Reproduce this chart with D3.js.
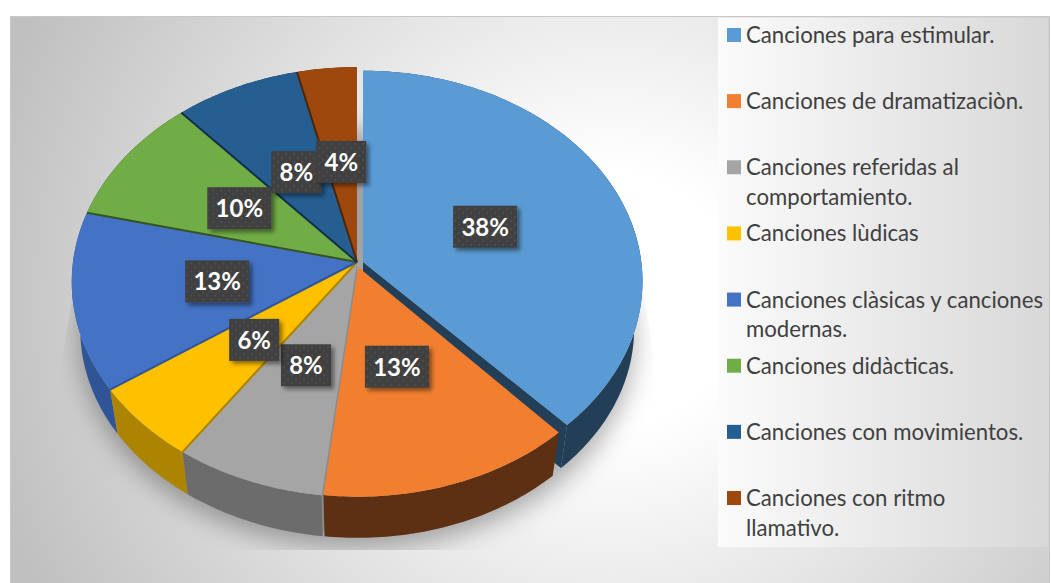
<!DOCTYPE html>
<html>
<head>
<meta charset="utf-8">
<script src="https://cdn.jsdelivr.net/npm/d3@7"></script>
<style>
  html, body { margin: 0; padding: 0; background: #fff; }
  svg { display: block; }
  text { font-family: Lato, "Open Sans", sans-serif; }
</style>
</head>
<body>
<div id="chart"></div>
<script>
// Chart data
var categories = [
  ["Canciones para estimular."],
  ["Canciones de dramatizaciòn."],
  ["Canciones referidas al", "comportamiento."],
  ["Canciones lùdicas"],
  ["Canciones clàsicas y canciones", "modernas."],
  ["Canciones didàcticas."],
  ["Canciones con movimientos."],
  ["Canciones con ritmo", "llamativo."]
];
var values = [38, 13.8, 7.8, 5.8, 13.4, 9.7, 7.8, 3.7];
var labels = ["38%", "13%", "8%", "6%", "13%", "10%", "8%", "4%"];
var topColors = ["#5b9bd5", "#f27f30", "#a5a5a5", "#ffc000", "#4472c4", "#70ad47", "#255e91", "#9e480e"];
var wallColors = ["#223f57", "#5e3013", "#5a5a5a", "#ad8400", "#2f5597", "#38531f", "#12304a", "#4f2407"];

var width = 1051, height = 583;

// Tilted disc: near edge is magnified, the bottom rim a bit smaller and lower
var cx = 357, cy = 262, ax = 284, ay = 213, k = 0.093;
var depth = 48, shrink = 0.97;

function project(angle, r, low) {
  var u = r * Math.sin(angle), v = -r * Math.cos(angle), w = 1 - k * v;
  var x = ax * u / w, y = ay * v / w;
  if (low) { x *= shrink; y = y * shrink + depth; }
  return [x, y];
}

var svg = d3.select("#chart").append("svg")
    .attr("width", width)
    .attr("height", height);

var defs = svg.append("defs");

// Panel background
var bg = defs.append("radialGradient")
    .attr("id", "panel-bg")
    .attr("gradientUnits", "userSpaceOnUse")
    .attr("cx", 610).attr("cy", 300).attr("r", 640);
bg.append("stop").attr("offset", 0.2).attr("stop-color", "#ffffff");
bg.append("stop").attr("offset", 1).attr("stop-color", "#c0c0c0");

var legendBg = defs.append("linearGradient").attr("id", "legend-bg");
legendBg.append("stop").attr("offset", 0).attr("stop-color", "#fbfbfb");
legendBg.append("stop").attr("offset", 1).attr("stop-color", "#d8d8d8");

var grayWall = defs.append("linearGradient")
    .attr("id", "gray-wall")
    .attr("gradientUnits", "userSpaceOnUse")
    .attr("x1", 185).attr("x2", 320).attr("y1", 0).attr("y2", 0);
grayWall.append("stop").attr("offset", 0).attr("stop-color", "#6c6c6c");
grayWall.append("stop").attr("offset", 1).attr("stop-color", "#484848");

defs.append("filter").attr("id", "pie-shadow")
    .attr("x", -0.2).attr("y", -0.2).attr("width", 1.4).attr("height", 1.4)
  .append("feGaussianBlur").attr("stdDeviation", 13);

var labelShadow = defs.append("filter").attr("id", "label-shadow")
    .attr("x", -0.2).attr("y", -0.2).attr("width", 1.5).attr("height", 1.5);
labelShadow.append("feDropShadow")
    .attr("dx", 3).attr("dy", 3).attr("stdDeviation", 2.2)
    .attr("flood-color", "#000").attr("flood-opacity", 0.45);

var dots = defs.append("pattern").attr("id", "label-dots")
    .attr("patternUnits", "userSpaceOnUse")
    .attr("width", 8).attr("height", 8);
dots.append("rect").attr("width", 8).attr("height", 8).attr("fill", "#3f3f3f");
dots.append("circle").attr("cx", 2).attr("cy", 2).attr("r", 1).attr("fill", "#525252");
dots.append("circle").attr("cx", 6).attr("cy", 6).attr("r", 1).attr("fill", "#525252");

defs.append("clipPath").attr("id", "shadow-clip")
  .append("polygon")
    .attr("points", "103,103 613,103 685,550 32,550");

// Panel and legend box
svg.append("rect")
    .attr("x", 10.5).attr("y", 16.5)
    .attr("width", 1039).attr("height", 567)
    .attr("fill", "url(#panel-bg)")
    .attr("stroke", "#c8c8c8");

svg.append("rect")
    .attr("x", 718).attr("y", 18)
    .attr("width", 330).attr("height", 529)
    .attr("fill", "url(#legend-bg)");

// Slices
var slices = d3.pie().sort(null)(values);
// The two pulled-out slices sit off centre and are drawn slightly smaller
var explode = [[6, 0], [1, 5], [0, 0], [0, 0], [0, 0], [0, 0], [0, 0], [0, 0]];
var radius = [0.98, 0.98, 1, 1, 1, 1, 1, 1];
var startTrim = [0, 0.016, 0, 0, 0, 0, 0, 0];
var labelRadius = [0.47, 0.45, 0.5, 0.5, 0.5, 0.5, 0.5, 0.5];
var labelNudge = [[0, 0], [-3, 4], [1, -2], [1, -1], [1, -1], [1, -1], [2, 0], [0, 0]];
var line = d3.line();

function rim(d, low) {
  var n = Math.max(2, Math.ceil((d.endAngle - d.startAngle) * 60));
  var r = d.index === undefined ? 1 : radius[d.index];
  var a0 = d.startAngle + (d.index === undefined ? 0 : startTrim[d.index]);
  return d3.range(n + 1).map(function(j) {
    return project(a0 + (d.endAngle - a0) * j / n, r, low);
  });
}

// Soft shadow under the disc
var allSlice = {startAngle: 0, endAngle: 2 * Math.PI};
svg.append("g")
    .attr("clip-path", "url(#shadow-clip)")
  .append("path")
    .attr("transform", "translate(" + cx + "," + (cy + 10) + ")")
    .attr("d", line(rim(allSlice, true)) + "Z")
    .attr("fill", "#000")
    .attr("fill-opacity", 0.32)
    .attr("filter", "url(#pie-shadow)");

var pie = svg.append("g").attr("transform", "translate(" + cx + "," + cy + ")");

function midV(d) { return -Math.cos((d.startAngle + d.endAngle) / 2); }
function shift(d) { return "translate(" + explode[d.index] + ")"; }

// Cut faces seen through the gaps around the pulled-out slices
pie.append("path")
    .attr("transform", shift(slices[0]))
    .attr("d", line([[0, 0], project(slices[0].endAngle, radius[0], false), project(slices[0].endAngle, radius[0], true), [0, depth]]) + "Z")
    .attr("fill", wallColors[0]);
pie.append("path")
    .attr("d", line([[0, 0], project(slices[2].startAngle, 1, false), project(slices[2].startAngle, 1, true), [0, depth]]) + "Z")
    .attr("fill", "#8c8c8c");

// Side walls, far ones first
pie.selectAll("path.wall")
    .data(slices.slice().sort(function(a, b) { return midV(a) - midV(b); }))
  .join("path")
    .attr("class", "wall")
    .attr("transform", shift)
    .attr("d", function(d) {
      return line(rim(d, false).concat(rim(d, true).reverse())) + "Z";
    })
    .attr("fill", function(d) { return d.index === 2 ? "url(#gray-wall)" : wallColors[d.index]; });

// Top faces
pie.selectAll("path.top")
    .data(slices.slice().reverse())
  .join("path")
    .attr("class", "top")
    .attr("transform", shift)
    .attr("d", function(d) { return line([[0, 0]].concat(rim(d, false))) + "Z"; })
    .attr("fill", function(d) { return topColors[d.index]; });

// Dark seam on the leading edge of the slices behind
pie.selectAll("path.seam")
    .data(slices.slice(3))
  .join("path")
    .attr("class", "seam")
    .attr("d", function(d) { return line([[0, 0], project(d.startAngle, 1, false)]); })
    .attr("fill", "none")
    .attr("stroke", function(d) { return wallColors[d.index]; })
    .attr("stroke-width", 2);

// Percent labels
var labelG = svg.append("g").attr("transform", "translate(" + cx + "," + (cy + 1) + ")")
  .selectAll("g")
  .data(slices)
  .join("g")
    .attr("transform", function(d) {
      var p = project((d.startAngle + d.endAngle) / 2, labelRadius[d.index], false);
      return "translate(" + (p[0] + explode[d.index][0] + labelNudge[d.index][0]) + "," +
          (p[1] + explode[d.index][1] + labelNudge[d.index][1]) + ")";
    });

labelG.append("rect")
    .attr("x", function(d) { return labels[d.index].length > 2 ? -32 : -25; })
    .attr("y", -21)
    .attr("width", function(d) { return labels[d.index].length > 2 ? 64 : 50; })
    .attr("height", 42)
    .attr("fill", "url(#label-dots)")
    .attr("filter", "url(#label-shadow)");

labelG.append("text")
    .attr("text-anchor", "middle")
    .attr("y", 9)
    .attr("fill", "#fff")
    .attr("font-size", 24)
    .attr("font-weight", 700)
    .text(function(d) { return labels[d.index]; });

// Legend
var rowY = d3.scalePoint().domain(d3.range(categories.length)).range([35, 498]);

var legend = svg.append("g")
  .selectAll("g")
  .data(categories)
  .join("g")
    .attr("transform", function(d, i) { return "translate(727," + rowY(i) + ")"; });

legend.append("rect")
    .attr("y", -7)
    .attr("width", 14)
    .attr("height", 14)
    .attr("fill", function(d, i) { return topColors[i]; });

legend.selectAll("text")
    .data(function(d) { return d; })
  .join("text")
    .attr("x", 19)
    .attr("y", function(d, j) { return 8 + j * 29.5; })
    .attr("fill", "#404040")
    .attr("font-size", 22.2)
    .text(function(d) { return d; });
</script>
</body>
</html>
